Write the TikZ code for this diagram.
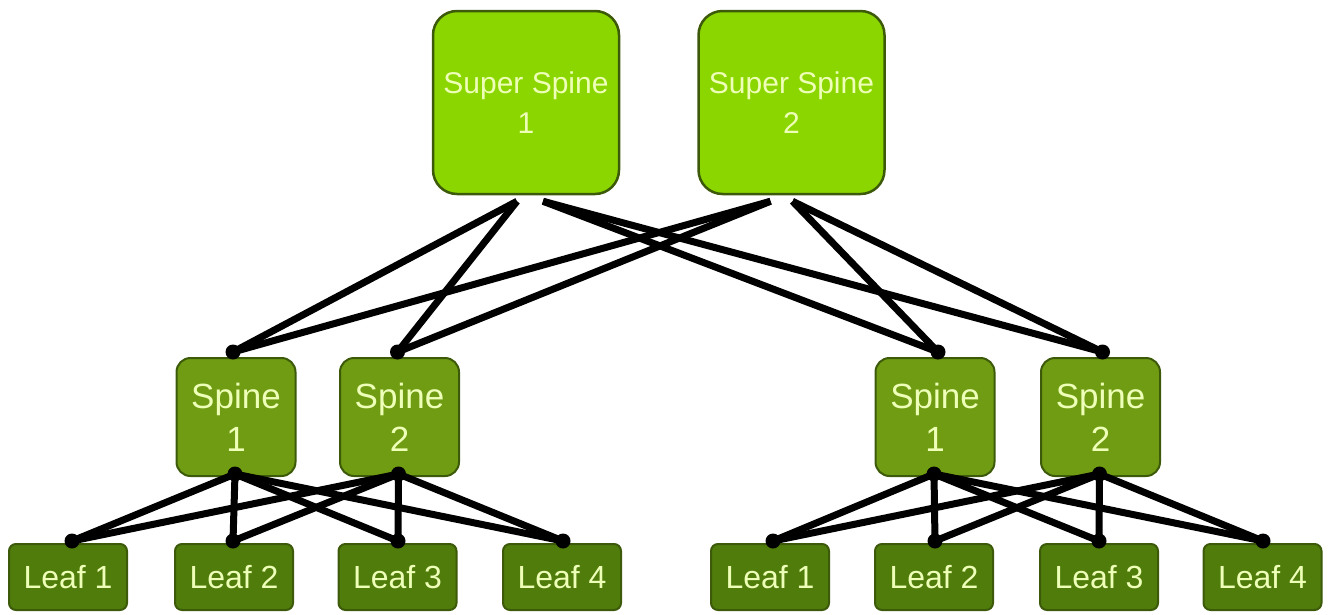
\documentclass[tikz,border=0pt]{standalone}
\usepackage{fontspec}
\setmainfont{Liberation Sans}
\usetikzlibrary{calc}
\definecolor{ssfill}{HTML}{8CD600}
\definecolor{spfill}{HTML}{6F9C12}
\definecolor{lffill}{HTML}{4F7C0A}
\definecolor{bord}{HTML}{3C5A0A}
\definecolor{txt}{HTML}{EEFFB8}
\begin{document}
\begin{tikzpicture}[x=1pt,y=-1pt,
  superbox/.style={draw=bord,line width=2.5pt,fill=ssfill,rounded corners=24pt,
    minimum width=186pt,minimum height=183pt,inner sep=0pt,align=center,
    text=txt,font=\fontsize{30}{40}\selectfont},
  spinebox/.style={draw=bord,line width=2pt,fill=spfill,rounded corners=14pt,
    minimum width=119pt,minimum height=118pt,inner sep=0pt,align=center,
    text=txt,font=\fontsize{35}{43}\selectfont},
  leafbox/.style={draw=bord,line width=2pt,fill=lffill,rounded corners=7pt,
    minimum width=118pt,minimum height=66pt,inner sep=0pt,align=center,
    text=txt,font=\fontsize{32}{36}\selectfont},
  link/.style={line width=7pt,black},
  dotmark/.style={fill=black,circle,inner sep=0pt,minimum size=15pt}]
\useasboundingbox (0,0) rectangle (1332,614);
% super spines
\node[superbox] (ss1) at (526,102.5) {Super Spine\\1};
\node[superbox] (ss2) at (791.5,102.5) {Super Spine\\2};
% spines
\node[spinebox] (ls1) at (236,417) {Spine\\1};
\node[spinebox] (ls2) at (399.5,417) {Spine\\2};
\node[spinebox] (rs1) at (935,417) {Spine\\1};
\node[spinebox] (rs2) at (1100.5,417) {Spine\\2};
% leaves
\node[leafbox] (ll1) at (68,577) {Leaf 1};
\node[leafbox] (ll2) at (234,577) {Leaf 2};
\node[leafbox] (ll3) at (397.5,577) {Leaf 3};
\node[leafbox] (ll4) at (562,577) {Leaf 4};
\node[leafbox] (rl1) at (770,577) {Leaf 1};
\node[leafbox] (rl2) at (934,577) {Leaf 2};
\node[leafbox] (rl3) at (1099,577) {Leaf 3};
\node[leafbox] (rl4) at (1262.5,577) {Leaf 4};
% connection points
\coordinate (ss1a) at ($(ss1.south)+(-9,6)$);
\coordinate (ss1b) at ($(ss1.south)+(17,6)$);
\coordinate (ss2a) at ($(ss2.south)+(-21,6)$);
\coordinate (ss2b) at ($(ss2.south)+(1,6)$);
\foreach \n/\dx in {ls1/-3,ls2/-2,rs1/3,rs2/2}{
  \coordinate (\n t) at ($(\n.north)+(\dx,-5)$);
  \coordinate (\n b) at ($(\n.south)+(-1,-3)$);
}
\foreach \n/\dx in {ll1/4,ll2/-1,ll3/0.5,ll4/1,rl1/3,rl2/1,rl3/0,rl4/0.5}{
  \coordinate (\n t) at ($(\n.north)+(\dx,-2)$);
}
% links super spine -> spine
\foreach \s in {ls1t,ls2t}{
  \draw[link] (ss1a) -- (\s);
  \draw[link] (ss2a) -- (\s);
}
\foreach \s in {rs1t,rs2t}{
  \draw[link] (ss1b) -- (\s);
  \draw[link] (ss2b) -- (\s);
}
% links spine -> leaf
\foreach \sp in {ls1b,ls2b}{
  \foreach \lf in {ll1t,ll2t,ll3t,ll4t}{
    \draw[link] (\sp) -- (\lf);
  }
}
\foreach \sp in {rs1b,rs2b}{
  \foreach \lf in {rl1t,rl2t,rl3t,rl4t}{
    \draw[link] (\sp) -- (\lf);
  }
}
% dots
\foreach \p in {ls1t,ls2t,rs1t,rs2t,ls1b,ls2b,rs1b,rs2b,
  ll1t,ll2t,ll3t,ll4t,rl1t,rl2t,rl3t,rl4t}{
  \node[dotmark] at (\p) {};
}
\end{tikzpicture}
\end{document}
